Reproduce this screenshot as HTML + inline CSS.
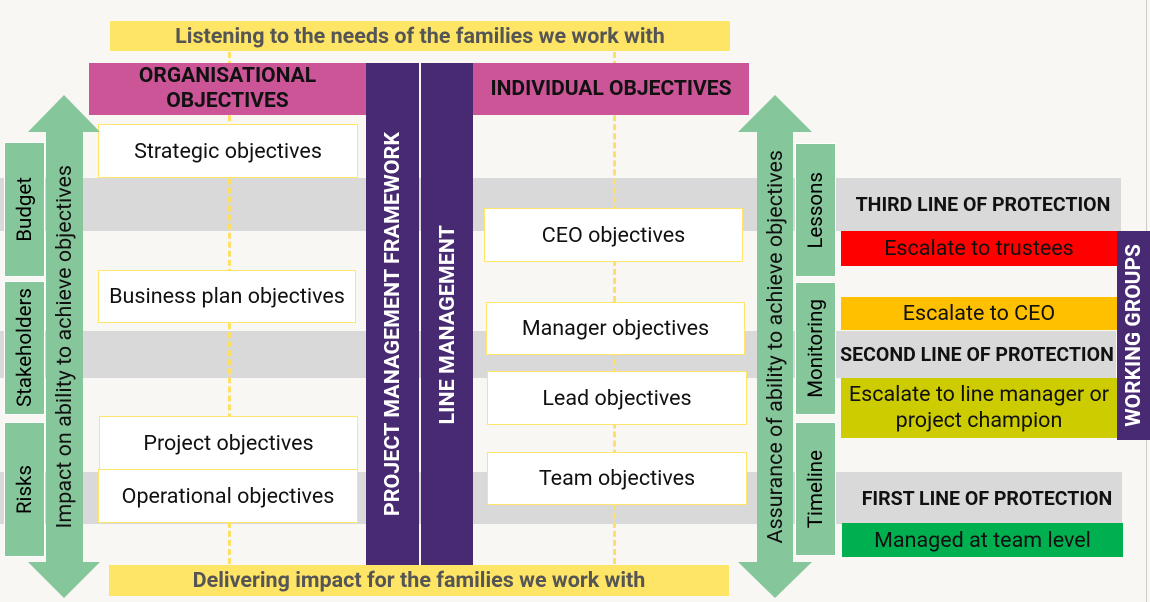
<!DOCTYPE html>
<html><head><style>
body{margin:0;width:1150px;height:602px;background:#f8f7f4;position:relative;overflow:hidden;font-family:"Roboto","Liberation Sans",sans-serif}
div{position:absolute;box-sizing:border-box}
.c{display:flex;align-items:center;justify-content:center;text-align:center;white-space:nowrap}
.band{background:#d9d9d9}
.box{background:#fff;border:1px solid #ffe66b;font-size:21.5px;color:#111}
.g{background:#86c69b;border:1px solid #fff}
.v{writing-mode:vertical-rl;transform:rotate(180deg)}
.dash{border-left:3px dashed #ffe066;width:0}
.b{font-weight:bold}
</style></head><body>
<div class="band" style="left:0;top:178px;width:1121px;height:53px"></div>
<div class="band" style="left:0;top:331px;width:1116px;height:47px"></div>
<div class="band" style="left:0;top:472px;width:1122px;height:52px"></div>
<div style="left:1146px;top:0;width:1px;height:602px;background:#ccc"></div>
<div class="dash" style="left:228px;top:52px;height:512px"></div>
<div class="dash" style="left:613px;top:52px;height:512px"></div>
<div class="c b" style="left:110px;top:21px;width:620px;height:30px;background:#ffe566;color:#555;font-size:21.5px">Listening to the needs of the families we work with</div>
<div class="c b" style="left:109px;top:565px;width:620px;height:31px;background:#ffe566;color:#555;font-size:21.5px">Delivering impact for the families we work with</div>
<div class="c b" style="left:89px;top:63px;width:277px;height:52px;background:#cb5597;font-size:21px;line-height:25px;color:#111">ORGANISATIONAL<br>OBJECTIVES</div>
<div class="c b" style="left:473px;top:63px;width:276px;height:52px;background:#cb5597;font-size:21px;color:#111">INDIVIDUAL OBJECTIVES</div>
<div class="c b" style="left:366px;top:63px;width:53px;height:502px;background:#482a72;color:#fff;font-size:21.5px;padding-top:20px"><span class="v">PROJECT MANAGEMENT FRAMEWORK</span></div>
<div class="c b" style="left:421px;top:63px;width:52px;height:502px;background:#482a72;color:#fff;font-size:21.5px;padding-top:22px"><span class="v">LINE MANAGEMENT</span></div>
<div class="box c" style="left:98px;top:124px;width:260px;height:54px">Strategic objectives</div>
<div class="box c" style="left:98px;top:270px;width:258px;height:53px">Business plan objectives</div>
<div class="box c" style="left:99px;top:416px;width:259px;height:54px">Project objectives</div>
<div class="box c" style="left:98px;top:469px;width:260px;height:54px">Operational objectives</div>
<div class="box c" style="left:484px;top:208px;width:259px;height:54px">CEO objectives</div>
<div class="box c" style="left:486px;top:302px;width:259px;height:53px">Manager objectives</div>
<div class="box c" style="left:487px;top:371px;width:260px;height:54px">Lead objectives</div>
<div class="box c" style="left:487px;top:452px;width:260px;height:53px">Team objectives</div>
<svg style="position:absolute;left:0;top:0" width="1150" height="602">
<polygon points="64,95 100,132 83,132 83,562 100,562 64,598 28,562 46,562 46,132 28,132" fill="#86c69b"/>
<polygon points="775,95 812,132 793,132 793,562 812,562 775,598 738,562 757,562 757,132 738,132" fill="#86c69b"/>
</svg>
<div class="c" style="left:46px;top:132px;width:37px;height:430px;font-size:21.5px;color:#111"><span class="v">Impact on ability to achieve objectives</span></div>
<div class="c" style="left:757px;top:132px;width:36px;height:430px;font-size:21.5px;color:#111"><span class="v">Assurance of ability to achieve objectives</span></div>
<div class="g c" style="left:4px;top:142px;width:41px;height:135px;font-size:20.5px"><span class="v">Budget</span></div>
<div class="g c" style="left:4px;top:281px;width:41px;height:134px;font-size:20.5px"><span class="v">Stakeholders</span></div>
<div class="g c" style="left:4px;top:422px;width:41px;height:135px;font-size:20.5px"><span class="v">Risks</span></div>
<div class="g c" style="left:795px;top:143px;width:41px;height:134px;font-size:20.5px"><span class="v">Lessons</span></div>
<div class="g c" style="left:795px;top:282px;width:41px;height:133px;font-size:20.5px"><span class="v">Monitoring</span></div>
<div class="g c" style="left:795px;top:422px;width:41px;height:134px;font-size:20.5px"><span class="v">Timeline</span></div>
<div class="c b" style="left:850px;top:192px;width:266px;height:25px;font-size:19.5px;color:#111">THIRD LINE OF PROTECTION</div>
<div class="c b" style="left:836px;top:342px;width:282px;height:25px;font-size:19.5px;color:#111">SECOND LINE OF PROTECTION</div>
<div class="c b" style="left:852px;top:486px;width:270px;height:25px;font-size:19.5px;color:#111">FIRST LINE OF PROTECTION</div>
<div class="c" style="left:841px;top:231px;width:276px;height:35px;background:#ff0000;font-size:21.5px;color:#111">Escalate to trustees</div>
<div class="c" style="left:841px;top:297px;width:276px;height:33px;background:#ffc000;font-size:21.5px;color:#111">Escalate to CEO</div>
<div class="c" style="left:841px;top:378px;width:276px;height:60px;background:#cccc00;font-size:21.5px;line-height:26px;color:#111">Escalate to line manager or<br>project champion</div>
<div class="c" style="left:842px;top:523px;width:281px;height:34px;background:#00b050;font-size:21.5px;color:#111">Managed at team level</div>
<div class="c b" style="left:1117px;top:231px;width:33px;height:209px;background:#482a72;color:#fff;font-size:21px"><span class="v">WORKING GROUPS</span></div>
</body></html>
